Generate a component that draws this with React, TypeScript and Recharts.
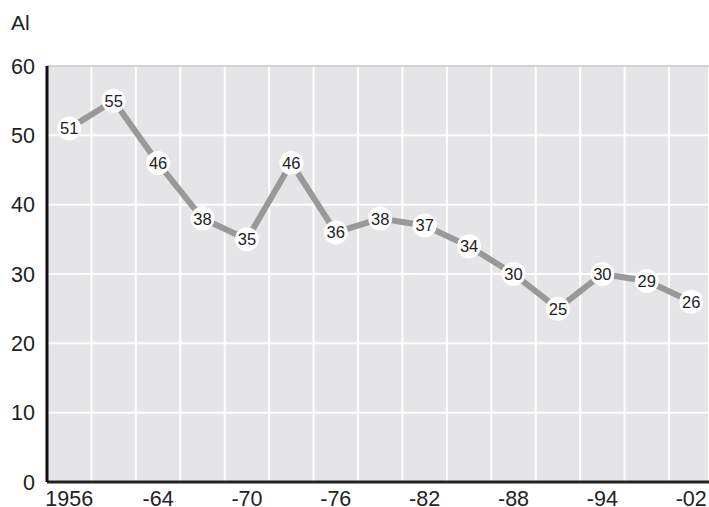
import { LineChart, Line, XAxis, YAxis, CartesianGrid, ReferenceLine } from 'recharts';

const years = ['1956', '1960', '1964', '1968', '1970', '1973', '1976', '1979', '1982', '1985', '1988', '1991', '1994', '1998', '2002'];
const values = [51, 55, 46, 38, 35, 46, 36, 38, 37, 34, 30, 25, 30, 29, 26];
const tickLabels = ['1956', '-64', '-70', '-76', '-82', '-88', '-94', '-02'];
const labelIndexes = [0, 2, 4, 6, 8, 10, 12, 14];
const yTicks = [0, 10, 20, 30, 40, 50, 60];
const bandEdges = [0.5, 1.5, 2.5, 3.5, 4.5, 5.5, 6.5, 7.5, 8.5, 9.5, 10.5, 11.5, 12.5, 13.5];

const data = years.map((year, i) => ({ i, year, value: values[i] }));

const font = '"Liberation Sans", Arial, sans-serif';
// last band runs a little past the right edge of the picture
const xDomain: [number, number] = [-0.5, 14.4];

const ValueDot = (props: any) => {
    const { cx, cy, value, index } = props;
    if (cx == null || cy == null) return null;
    return (
        <g key={`dot-${index}`}>
            <circle cx={cx} cy={cy} r={12} fill="#ffffff" />
            <text x={cx} y={cy} textAnchor="middle" dominantBaseline="central" fontSize={16.5} fill="#222" fontFamily={font}>
                {value}
            </text>
        </g>
    );
};

export default function App() {
    return (
        <div style={{ position: 'absolute', left: 0, top: 0, width: 709, height: 507, background: '#fff', fontFamily: font }}>
            <div style={{ position: 'absolute', left: 11, top: 11, fontSize: 21, lineHeight: '24px', color: '#222' }}>Al</div>
            <LineChart width={709} height={507} data={data} margin={{ top: 66, right: 0, bottom: 0, left: 0 }}>
                <CartesianGrid xAxisId="grid" fill="#e5e5e7" stroke="#ffffff" strokeWidth={2} />
                <XAxis
                    xAxisId="grid"
                    orientation="top"
                    type="number"
                    dataKey="i"
                    domain={xDomain}
                    allowDataOverflow
                    ticks={bandEdges}
                    hide
                />
                <XAxis
                    xAxisId="main"
                    type="number"
                    dataKey="i"
                    domain={xDomain}
                    allowDataOverflow
                    ticks={labelIndexes}
                    tickFormatter={(v: number) => tickLabels[labelIndexes.indexOf(v)] ?? ''}
                    height={25}
                    tickLine={false}
                    tickSize={6}
                    tickMargin={3}
                    axisLine={{ stroke: '#222', strokeWidth: 3 }}
                    tick={{ fontSize: 21.5, fill: '#222', fontFamily: font }}
                />
                <YAxis
                    type="number"
                    domain={[0, 60]}
                    ticks={yTicks}
                    width={47}
                    tickLine={false}
                    tickSize={6}
                    tickMargin={6}
                    axisLine={{ stroke: '#111', strokeWidth: 3 }}
                    tick={{ fontSize: 21.5, fill: '#222', fontFamily: font }}
                />
                <ReferenceLine xAxisId="main" y={60} stroke="#c4c4c4" strokeWidth={1.5} />
                <Line
                    xAxisId="main"
                    type="linear"
                    dataKey="value"
                    stroke="#999999"
                    strokeWidth={6}
                    dot={ValueDot}
                    activeDot={false}
                    isAnimationActive={false}
                />
            </LineChart>
        </div>
    );
}
